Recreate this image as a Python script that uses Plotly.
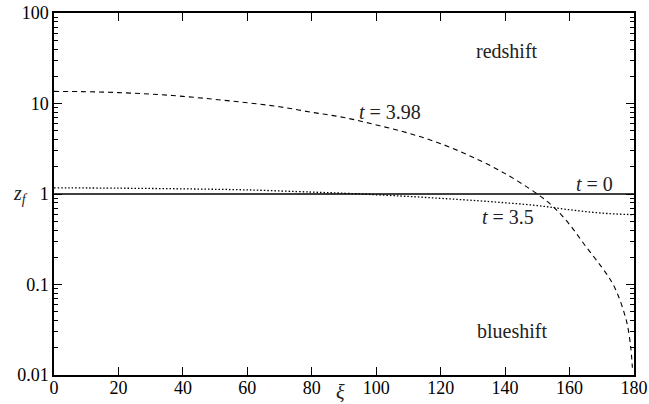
import plotly.graph_objects as go

# t = 0 (solid)
xi_t0 = [0, 180]
z_t0 = [1.0, 1.0]

# t = 3.5 (dotted)
xi_t35 = [0, 20, 40, 60, 80, 90, 100, 110, 120, 130, 140, 150, 160, 170, 180]
z_t35 = [1.17, 1.16, 1.14, 1.11, 1.05, 1.02, 0.98, 0.94, 0.895, 0.85, 0.80, 0.745, 0.67, 0.615, 0.59]

# t = 3.98 (dashed)
xi_t398 = [0, 10, 20, 30, 40, 50, 60, 70, 80, 90, 100, 110, 120, 130, 140, 150,
           155, 160, 165, 170, 173, 175, 177, 178, 179, 179.5]
z_t398 = [13.6, 13.5, 13.2, 12.7, 12.0, 11.1, 10.2, 9.2, 8.0, 7.0, 5.8, 4.7, 3.6, 2.55, 1.68, 1.0,
          0.72, 0.46, 0.265, 0.155, 0.108, 0.077, 0.048, 0.035, 0.02, 0.012]

x_ticks = [0, 20, 40, 60, 80, 100, 120, 140, 160, 180]
y_ticks = [0.01, 0.1, 1, 10, 100]
y_ticklabels = ["0.01", "0.1", "1", "10", "100"]

FONT = "Liberation Serif"

minor_vals = [m * 10 ** e for e in range(-2, 2) for m in range(2, 10)]

fig = go.Figure()
fig.add_trace(go.Scatter(x=xi_t0, y=z_t0, mode="lines",
                         line=dict(color="black", width=1.3)))
fig.add_trace(go.Scatter(x=xi_t35, y=z_t35, mode="lines", line_shape="spline",
                         line=dict(color="black", width=1.3, dash="1.5px,2px")))
fig.add_trace(go.Scatter(x=xi_t398, y=z_t398, mode="lines", line_shape="spline",
                         line=dict(color="black", width=1.1, dash="5px,4px")))

fig.update_layout(
    width=649, height=404,
    margin=dict(l=54, r=15, t=13, b=29),
    paper_bgcolor="white", plot_bgcolor="white",
    showlegend=False,
    font=dict(family=FONT, size=18, color="black"),
    xaxis=dict(range=[0, 180], tickvals=x_ticks, ticks="inside", ticklen=8,
               tickwidth=1, tickcolor="black", showline=True, linecolor="black",
               linewidth=1.5, mirror="ticks", showgrid=False, zeroline=False,
               automargin=False, ticklabelstandoff=-4,
               tickfont=dict(family=FONT, size=18)),
    yaxis=dict(type="log", range=[-2, 2], tickvals=y_ticks, ticktext=y_ticklabels,
               ticks="inside", ticklen=8, tickwidth=1, tickcolor="black",
               showline=True, linecolor="black", linewidth=1.5, mirror="ticks",
               showgrid=False, zeroline=False, automargin=False,
               tickfont=dict(family=FONT, size=18),
               minor=dict(tickvals=minor_vals, ticks="inside", ticklen=4,
                          tickwidth=1, tickcolor="black", showgrid=False)),
)

ann_font = dict(family=FONT, size=20, color="#222")
fig.add_annotation(x=140.6, y=1.582, text="redshift", showarrow=False, font=ann_font)
fig.add_annotation(x=142, y=-1.509, text="blueshift", showarrow=False, font=ann_font)
fig.add_annotation(x=104.3, y=0.901, text="<i>t</i> = 3.98", showarrow=False, font=ann_font)
fig.add_annotation(x=167.6, y=0.110, text="<i>t</i> = 0", showarrow=False, font=ann_font)
fig.add_annotation(x=141, y=-0.25, text="<i>t</i> = 3.5", showarrow=False, font=ann_font)
fig.add_annotation(xref="paper", yref="y", x=-0.058, y=0, text="<i>z<sub>f</sub></i>",
                   showarrow=False, font=ann_font, xanchor="center")
fig.add_annotation(xref="x", yref="paper", x=89, y=-0.047, text="<i>ξ</i>",
                   showarrow=False, font=ann_font, yanchor="middle")

fig.write_html("out.html", config={"displayModeBar": False},
               post_script="document.body.style.margin='0';")
